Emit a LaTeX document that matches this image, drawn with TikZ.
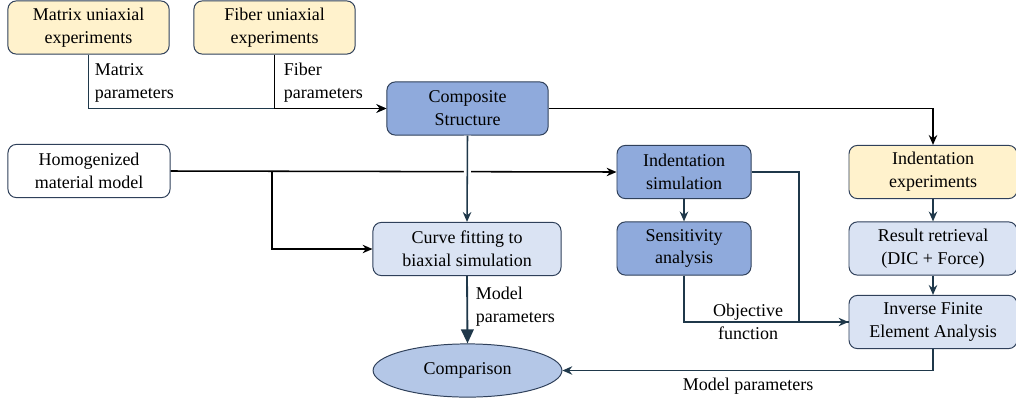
\documentclass[tikz,border=0pt]{standalone}
\usepackage{fontspec}
\setmainfont{Liberation Serif}
\usepackage{xcolor}
\usepackage{tikz}
\usetikzlibrary{shapes.geometric, arrows.meta, positioning}
\definecolor{expfill}{RGB}{255,242,204}
\definecolor{simfill}{RGB}{143,170,220}
\definecolor{procfill}{RGB}{218,227,243}
\definecolor{cmpfill}{RGB}{180,199,231}
\definecolor{edge}{RGB}{47,64,90}
\definecolor{wire}{RGB}{31,56,74}
\tikzset{
    box/.style={rectangle, rounded corners=6pt, minimum height=1.33cm, text centered, draw=edge, line width=0.7pt, align=center, font=\fontsize{12.8}{16.3}\selectfont},
    flow/.style={-{Stealth[length=7pt,width=6pt]}, line width=1.1pt},
    wiredark/.style={line width=1.1pt, color=wire},
    label/.style={align=left, font=\fontsize{12.8}{16.3}\selectfont}
}
\begin{document}
\begin{tikzpicture}[x=0.025cm, y=-0.025cm]
    \useasboundingbox (0,0) rectangle (1016,403);
    % Experiments
    \node[box, fill=expfill, minimum width=4.03cm] (matrix) at (88.5,27.5) {Matrix uniaxial\\ experiments};
    \node[box, fill=expfill, minimum width=4.03cm] (fiber) at (274.5,27.5) {Fiber uniaxial\\ experiments};
    \node[box, fill=simfill, minimum width=4.03cm] (composite) at (467.5,108.5) {Composite\\ Structure};
    \node[box, fill=white, minimum width=4.05cm] (homog) at (89,171) {Homogenized\\ material model};

    % Simulation column
    \node[box, fill=simfill, minimum width=3.35cm] (indsim) at (684,172) {Indentation\\ simulation};
    \node[box, fill=simfill, minimum width=3.35cm] (sens) at (684,248.5) {Sensitivity\\ analysis};

    % Experiment column
    \node[box, fill=expfill, minimum width=4.2cm] (indexp) at (933,172) {Indentation\\ experiments};
    \node[box, fill=procfill, minimum width=4.2cm] (result) at (933,248.5) {Result retrieval\\ (DIC + Force)};
    \node[box, fill=procfill, minimum width=4.2cm] (infea) at (933,322) {Inverse Finite\\ Element Analysis};

    % Fitting and comparison
    \node[box, fill=procfill, minimum width=4.7cm] (curve) at (467,249) {Curve fitting to\\ biaxial simulation};
    \node[ellipse, draw=edge, line width=0.7pt, fill=cmpfill, minimum width=4.72cm, minimum height=1.33cm, font=\fontsize{12.8}{16.3}\selectfont] (comparison) at (467.5,370.5) {Comparison};

    \coordinate (split) at (272,171);
    \coordinate (objcol) at (799,172);

    % Connections
    \draw[flow, wire] (matrix.south) |- (composite.west);
    \draw[flow] (fiber.south) |- (composite.west);
    \draw[flow] (composite.east) -| (indexp.north);
    \draw[flow] (homog.east) -- (indsim.west);
    \draw[flow] (split) |- (curve.west);
    \draw[wiredark, preaction={draw=white, line width=5pt}, -{Stealth[length=7pt,width=6pt]}] (composite.south) -- (curve.north);
    \draw[flow, wire] (indsim.south) -- (sens.north);
    \draw[wiredark] (indsim.east) -- (objcol) |- (infea.west);
    \draw[flow, wire] (sens.south) |- (infea.west);
    \draw[flow, wire] (indexp.south) -- (result.north);
    \draw[flow, wire] (result.south) -- (infea.north);
    \draw[flow, wire] (infea.south) |- (comparison.east);
    \draw[wire, line width=1.3pt, -{Triangle[length=10pt,width=9pt]}] (curve.south) -- (comparison.north);

    % Labels
    \node[label, anchor=west] (matlbl) at (90,83) {Matrix\\ parameters};
    \node[label, anchor=west] (fiblbl) at (279,83) {Fiber\\ parameters};
    \node[label, anchor=west] (modlbl) at (471,307) {Model\\ parameters};
    \node[label, align=center] (objlbl) at (748,322) {Objective\\ function};
    \node[label] (modlbl2) at (748,386) {Model parameters};
\end{tikzpicture}
\end{document}
